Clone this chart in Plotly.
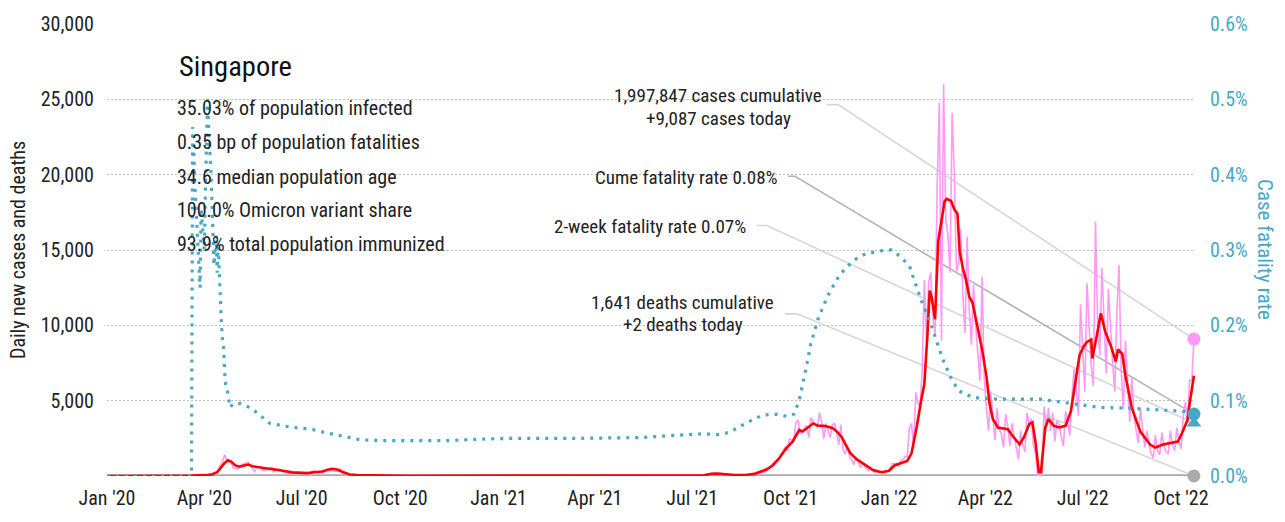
import pandas as pd
import plotly.graph_objects as go

FONT = "Roboto Condensed, DejaVu Sans Condensed, sans-serif"
INK = "#222222"
TEAL = "#46a8c4"
PINK = "#ff99f7"
RED = "#ff0000"
GREY = "#aaaaaa"

Y_MAX = 30000          # left axis: daily cases / deaths
Y2_MAX = 0.006         # right axis: case fatality rate
X_START, X_END = "2020-01-01", "2022-10-14"
LATEST = "2022-10-13"

# ---- daily new cases -------------------------------------------------------
early_dates = ["2020-01-01", "2020-01-23", "2020-02-05", "2020-02-20", "2020-03-05"]
early_cases = [0, 1, 6, 3, 8]

# first wave, every other day from 13 Mar 2020
cases_2020_start = "2020-03-13"
cases_2020 = [
    13, 14, 23, 32, 47, 23, 73, 52, 42, 47,
    49, 75, 66, 142, 198, 191, 334, 728, 942, 1426, 1016, 897, 931, 528, 528,
    447, 573, 788, 768, 876, 884, 675, 465, 305, 570, 614, 548, 383, 373, 506,
    408, 569, 261, 407, 451, 422, 347, 214, 247, 142, 218, 191, 191, 213, 213,
    215, 183, 183, 120, 158, 322, 347, 248, 211, 234, 211, 354, 484, 359, 359, 307,
    295, 313, 488, 188, 188, 42, 97, 86, 93, 78, 60, 50, 40, 30, 30,
]

quiet_dates = [
    "2020-09-05", "2020-09-20", "2020-10-05", "2020-10-20", "2020-11-05", "2020-11-20",
    "2020-12-05", "2020-12-20", "2021-01-05", "2021-01-25", "2021-02-15", "2021-03-05",
    "2021-03-25", "2021-04-15", "2021-05-05", "2021-05-20", "2021-06-05", "2021-06-20",
    "2021-07-05", "2021-07-12", "2021-07-15", "2021-07-18", "2021-07-21", "2021-07-24",
    "2021-07-27", "2021-07-30", "2021-08-03", "2021-08-07", "2021-08-11", "2021-08-15",
    "2021-08-19", "2021-08-23", "2021-08-27",
]
quiet_cases = [
    25, 20, 10, 6, 8, 10, 12, 20, 30, 25, 12, 15, 20, 25, 30, 35, 20, 15,
    10, 60, 100, 170, 180, 150, 130, 110, 100, 75, 60, 55, 70, 95, 130,
]

# Delta and Omicron waves, every other day up to the latest report
cases_recent = [
    156, 187, 259, 235, 332, 555, 520, 837, 910, 1009, 1012, 1457, 1650, 1939, 1647, 2478,
    2356, 2475, 3577, 3703, 2809, 2976, 3190, 3348, 2553, 3862, 3637, 3383, 3277, 4200, 3600,
    2470, 3496, 3003, 2553, 3397, 3481, 2899, 2069, 3400, 1734, 1461, 2079, 1275, 1090, 747,
    1225, 1101, 552, 794, 713, 450, 356, 550, 324, 244, 255, 280, 234, 190, 257, 344,
    460, 842, 808, 802, 656, 1022, 1090, 1283, 1282, 3155, 3496, 1880, 5554, 4830, 4627,
    7000, 13000, 9000, 12900, 13500, 10500, 9400, 19400, 24800, 9000, 26000, 17000, 16000, 13500,
    24100, 20000, 13600, 14000, 16400, 12000, 9500, 15900, 11000, 8700, 12700, 10000, 8300, 6300, 13200, 6500,
    4500, 3000, 5600, 4200, 2400, 4500, 3100, 2800, 1900, 4100, 3300, 2000, 3500, 2600, 1800,
    1100, 3000, 2100, 1600, 4200, 3500, 3800, 2000, 1500, 0, 0, 0, 4600, 3200, 4500,
    3000, 4200, 2300, 3700, 3400, 2600, 2000, 4300, 3600, 2700, 5300, 7100, 5800, 4000, 11400,
    8200, 5600, 12800, 9500, 7200, 6000, 16900, 10000, 8000, 13800, 10500, 6800, 12400, 9500, 7500, 5600,
    11000, 14000, 7000, 4400, 9000, 6200, 3600, 6500, 4000, 3000, 2200, 4500, 3100, 1900, 3000,
    2300, 1500, 1200, 2700, 1700, 1400, 2900, 2000, 1600, 1500, 3000, 2100, 1700, 3200, 2300,
    1800, 3900, 4900, 3500, 6400, 6300, 9087,
]

# ---- 7-day average of new cases --------------------------------------------
avg_dates = [
    "2020-01-01", "2020-03-01", "2020-03-20", "2020-04-01", "2020-04-08", "2020-04-13",
    "2020-04-17", "2020-04-20", "2020-04-23", "2020-04-26", "2020-04-30", "2020-05-04",
    "2020-05-08", "2020-05-12", "2020-05-16", "2020-05-22", "2020-05-28", "2020-06-03",
    "2020-06-10", "2020-06-16", "2020-06-22", "2020-06-29", "2020-07-06", "2020-07-13",
    "2020-07-20", "2020-07-29", "2020-08-03", "2020-08-09", "2020-08-15", "2020-08-22",
    "2020-09-01", "2020-09-20", "2020-10-10", "2020-12-01", "2021-02-01", "2021-04-01",
    "2021-06-01", "2021-07-01", "2021-07-12", "2021-07-19", "2021-07-25", "2021-08-01",
    "2021-08-10", "2021-08-20", "2021-08-28", "2021-09-02", "2021-09-09", "2021-09-15",
    "2021-09-21", "2021-09-27", "2021-10-03", "2021-10-09", "2021-10-12", "2021-10-16",
    "2021-10-22", "2021-10-26", "2021-11-01", "2021-11-06", "2021-11-10", "2021-11-14",
    "2021-11-18", "2021-11-22", "2021-11-26", "2021-12-02", "2021-12-10", "2021-12-17",
    "2021-12-25", "2022-01-01", "2022-01-06", "2022-01-12", "2022-01-18", "2022-01-22",
    "2022-01-27", "2022-01-31", "2022-02-03", "2022-02-06", "2022-02-08", "2022-02-10",
    "2022-02-13", "2022-02-16", "2022-02-18", "2022-02-22", "2022-02-24", "2022-02-28",
    "2022-03-03", "2022-03-06", "2022-03-08", "2022-03-11", "2022-03-14", "2022-03-17",
    "2022-03-20", "2022-03-24", "2022-03-29", "2022-04-02", "2022-04-05", "2022-04-08",
    "2022-04-13", "2022-04-18", "2022-04-22", "2022-04-26", "2022-04-30", "2022-05-03",
    "2022-05-07", "2022-05-12", "2022-05-15", "2022-05-18", "2022-05-20", "2022-05-21",
    "2022-05-23", "2022-05-25", "2022-05-27", "2022-05-30", "2022-06-04", "2022-06-09",
    "2022-06-15", "2022-06-20", "2022-06-24", "2022-06-28", "2022-07-02", "2022-07-05",
    "2022-07-09", "2022-07-10", "2022-07-14", "2022-07-18", "2022-07-22", "2022-07-27",
    "2022-08-01", "2022-08-03", "2022-08-07", "2022-08-10", "2022-08-16", "2022-08-24",
    "2022-09-02", "2022-09-07", "2022-09-14", "2022-09-23", "2022-09-28", "2022-10-02",
    "2022-10-07", "2022-10-09", "2022-10-13",
]
avg_cases = [
    0, 3, 30, 55, 100, 260,
    600, 870, 1040, 960, 700, 620,
    700, 760, 650, 560, 520, 460,
    400, 320, 240, 200, 190, 250,
    300, 480, 430, 250, 100, 70,
    45, 25, 10, 10, 20, 25,
    20, 15, 50, 150, 170, 120,
    70, 70, 140, 260, 450, 750,
    1240, 1850, 2300, 3050, 2950, 3150,
    3490, 3350, 3330, 3250, 3150, 2900,
    2560, 2000, 1500, 1100, 700, 400,
    250, 350, 700, 850, 1000, 1500,
    3300, 5000, 6100, 9500, 12300, 11800,
    10400, 15600, 16600, 18250, 18400, 18250,
    17700, 17400, 14900, 13800, 13000, 11900,
    11500, 10100, 8400, 6650, 4800, 3780,
    3200, 3150, 3100, 2700, 2330, 2100,
    2560, 3440, 3560, 2200, 900, 250,
    250, 1800, 3200, 3780, 3330, 3220,
    3330, 4300, 6000, 8000, 8600, 8900,
    9050, 7800, 9250, 10800, 9600, 8700,
    7600, 8400, 8100, 6650, 4500, 2930,
    2090, 1890, 2090, 2220, 2280, 2870,
    3720, 4820, 6650,
]

# ---- daily deaths ------------------------------------------------------------
death_dates = [
    "2020-01-01", "2020-03-21", "2020-05-01", "2020-09-01", "2021-07-01", "2021-08-15",
    "2021-09-15", "2021-10-15", "2021-11-10", "2021-12-10", "2022-01-10", "2022-02-20",
    "2022-03-15", "2022-04-15", "2022-06-15", "2022-07-20", "2022-09-01", "2022-10-13",
]
death_daily = [0, 1, 0, 0, 0, 1, 3, 12, 14, 5, 1, 8, 9, 3, 2, 4, 2, 2]

# ---- cumulative case fatality rate -------------------------------------------
cfr_dates = [
    "2020-01-01", "2020-03-20", "2020-03-21", "2020-03-22", "2020-03-23", "2020-03-24",
    "2020-03-25", "2020-03-26", "2020-03-27", "2020-03-28", "2020-03-29", "2020-03-30",
    "2020-03-31", "2020-04-01", "2020-04-02", "2020-04-03", "2020-04-04", "2020-04-05",
    "2020-04-06", "2020-04-07", "2020-04-08", "2020-04-09", "2020-04-10", "2020-04-11",
    "2020-04-12", "2020-04-13", "2020-04-14", "2020-04-15", "2020-04-16", "2020-04-17",
    "2020-04-18", "2020-04-19", "2020-04-20", "2020-04-21", "2020-04-22", "2020-04-23",
    "2020-04-25", "2020-04-28", "2020-05-05", "2020-05-15", "2020-06-01", "2020-06-20",
    "2020-07-10", "2020-07-25", "2020-08-10", "2020-08-25", "2020-09-15", "2020-10-15",
    "2020-11-15", "2020-12-15", "2021-01-15", "2021-03-15", "2021-05-15", "2021-06-15",
    "2021-07-10", "2021-07-25", "2021-08-05", "2021-08-20", "2021-09-05", "2021-09-18",
    "2021-09-28", "2021-10-04", "2021-10-09", "2021-10-15", "2021-10-20", "2021-10-27",
    "2021-11-05", "2021-11-15", "2021-11-22", "2021-12-01", "2021-12-10", "2021-12-25",
    "2022-01-03", "2022-01-11", "2022-01-20", "2022-01-27", "2022-02-01", "2022-02-08",
    "2022-02-14", "2022-02-20", "2022-02-28", "2022-03-07", "2022-03-21", "2022-04-15",
    "2022-05-22", "2022-06-10", "2022-06-28", "2022-07-17", "2022-08-14", "2022-09-30",
    "2022-10-13",
]
cfr_values = [
    0, 0, 0.00463, 0.0044, 0.0039, 0.0036,
    0.0032, 0.0029, 0.0027, 0.0025, 0.00355, 0.0034,
    0.0032, 0.0030, 0.0038, 0.0045, 0.0050, 0.0046,
    0.0044, 0.0041, 0.0037, 0.0031, 0.0028, 0.0030,
    0.0032, 0.0027, 0.0031, 0.0027, 0.0023, 0.0020,
    0.0018, 0.0017, 0.00137, 0.0012, 0.00118, 0.00107,
    0.00091, 0.00096, 0.00096, 0.0009, 0.0007, 0.00065,
    0.00062, 0.00057, 0.00052, 0.00048, 0.00047, 0.000465,
    0.00047, 0.00049, 0.0005, 0.0005, 0.00051, 0.00054,
    0.00056, 0.00055, 0.00058, 0.0007, 0.00081, 0.00082,
    0.00079, 0.00082, 0.001, 0.0014, 0.00176, 0.0021,
    0.0024, 0.00265, 0.00277, 0.00288, 0.00295, 0.00299,
    0.003, 0.00292, 0.00279, 0.0025, 0.0023, 0.00206,
    0.00181, 0.00156, 0.0013, 0.00113, 0.00104, 0.00102,
    0.00102, 0.00098, 0.00094, 0.00091, 0.0009, 0.00086,
    0.00085,
]

# ---- headline figures ----------------------------------------------------------
cases_cumulative = 1997847
cases_today = 9087
deaths_cumulative = 1641
deaths_today = 2
cfr_two_week = 0.0007
cfr_cumulative = deaths_cumulative / cases_cumulative

stats_lines = [
    "35.03% of population infected",
    "0.35 bp of population fatalities",
    "34.6 median population age",
    "100.0% Omicron variant share",
    "93.9% total population immunized",
]

tick_dates = pd.date_range("2020-01-01", "2022-10-01", freq="QS")
tick_text = [d.strftime("%b '%y") for d in tick_dates]

# ---- assemble series -----------------------------------------------------------
daily_x = (
    list(pd.to_datetime(early_dates))
    + list(pd.date_range(cases_2020_start, periods=len(cases_2020), freq="2D"))
    + list(pd.to_datetime(quiet_dates))
    + list(pd.date_range(end=LATEST, periods=len(cases_recent), freq="2D"))
)
daily_y = early_cases + cases_2020 + quiet_cases + cases_recent

last_day = pd.Timestamp(LATEST)
x0, x1 = pd.Timestamp(X_START), pd.Timestamp(X_END)


def date_at(fx):
    """Date at a fraction of the plot width."""
    return x0 + (x1 - x0) * fx


fig = go.Figure()

# leader lines from the labels to the latest values
leaders = [
    (0.6618, 0.6719, 0.8217, cases_today, "#d6d6d6"),
    (0.6259, 0.6324, 0.6630, cfr_cumulative * Y_MAX / Y2_MAX, "#b4b4b4"),
    (0.5974, 0.6066, 0.5543, cfr_two_week * Y_MAX / Y2_MAX, "#d6d6d6"),
    (0.6232, 0.6342, 0.3587, deaths_today, "#d6d6d6"),
]
for fx0, fx1, fy, end_val, col in leaders:
    fig.add_trace(go.Scatter(
        x=[date_at(fx0), date_at(fx1), last_day],
        y=[fy * Y_MAX, fy * Y_MAX, end_val],
        mode="lines", line=dict(color=col, width=1.6),
        hoverinfo="skip", showlegend=False, cliponaxis=False,
    ))

fig.add_trace(go.Scatter(
    x=pd.to_datetime(death_dates), y=death_daily, mode="lines",
    line=dict(color=GREY, width=3.5), hoverinfo="skip", showlegend=False,
))
fig.add_trace(go.Scatter(
    x=daily_x, y=daily_y, mode="lines",
    line=dict(color=PINK, width=1.6), hoverinfo="skip", showlegend=False,
))
fig.add_trace(go.Scatter(
    x=pd.to_datetime(avg_dates), y=avg_cases, mode="lines",
    line=dict(color=RED, width=2.6), hoverinfo="skip", showlegend=False,
))
fig.add_trace(go.Scatter(
    x=[last_day], y=[cases_today], mode="markers",
    marker=dict(color=PINK, size=13), cliponaxis=False,
    hoverinfo="skip", showlegend=False,
))
fig.add_trace(go.Scatter(
    x=[last_day], y=[deaths_today], mode="markers",
    marker=dict(color=GREY, size=13), cliponaxis=False,
    hoverinfo="skip", showlegend=False,
))
fig.add_trace(go.Scatter(
    x=pd.to_datetime(cfr_dates), y=cfr_values, mode="lines", yaxis="y2",
    line=dict(color=TEAL, width=3.2, dash="3px,6px"),
    hoverinfo="skip", showlegend=False,
))
fig.add_trace(go.Scatter(
    x=[last_day], y=[cfr_two_week], mode="markers", yaxis="y2",
    marker=dict(color=TEAL, size=13, symbol="triangle-up"), cliponaxis=False,
    hoverinfo="skip", showlegend=False,
))
fig.add_trace(go.Scatter(
    x=[last_day], y=[cfr_cumulative], mode="markers", yaxis="y2",
    marker=dict(color=TEAL, size=13), cliponaxis=False,
    hoverinfo="skip", showlegend=False,
))

annotations = [
    dict(text="Singapore", x=0.0643, y=0.905, font=dict(size=28.5, color="#111111"),
         xanchor="left", yanchor="middle"),
]
for line, fy in zip(stats_lines, [0.8152, 0.7391, 0.6609, 0.5891, 0.5130]):
    annotations.append(dict(text=line, x=0.0625, y=fy, font=dict(size=20, color=INK),
                            xanchor="left", yanchor="middle"))

annotations += [
    dict(text=f"{cases_cumulative:,} cases cumulative", x=0.5616, y=0.8413, xanchor="center"),
    dict(text=f"+{cases_today:,} cases today", x=0.5616, y=0.7913, xanchor="center"),
    dict(text=f"Cume fatality rate {cfr_cumulative:.2%}", x=0.6186, y=0.6609, xanchor="right"),
    dict(text=f"2-week fatality rate {cfr_two_week:.2%}", x=0.5892, y=0.5522, xanchor="right"),
    dict(text=f"{deaths_cumulative:,} deaths cumulative", x=0.5294, y=0.3848, xanchor="center"),
    dict(text=f"+{deaths_today:,} deaths today", x=0.5294, y=0.3348, xanchor="center"),
    dict(text="Daily new cases and deaths", x=-0.0818, y=0.5, textangle=-90,
         font=dict(size=20, color=INK), xanchor="center"),
    dict(text="Case fatality rate", x=1.0643, y=0.5, textangle=90,
         font=dict(size=21, color=TEAL), xanchor="center"),
]
for a in annotations:
    a.setdefault("xref", "paper")
    a.setdefault("yref", "paper")
    a.setdefault("showarrow", False)
    a.setdefault("yanchor", "middle")
    a.setdefault("font", dict(size=19, color=INK))

fig.update_layout(
    width=1285, height=522, autosize=False,
    margin=dict(l=107, r=90, t=22, b=40),
    paper_bgcolor="white", plot_bgcolor="white",
    font=dict(family=FONT, color=INK, size=20),
    showlegend=False,
    annotations=annotations,
    xaxis=dict(
        range=[X_START, X_END], tickvals=tick_dates, ticktext=tick_text,
        showgrid=False, zeroline=False, showline=False, ticks="",
        tickfont=dict(size=20, color=INK), ticklabelstandoff=8,
    ),
    yaxis=dict(
        range=[0, Y_MAX], tickvals=list(range(5000, Y_MAX + 1, 5000)), tickformat=",",
        showgrid=True, gridcolor="#bdbdbd", griddash="2px,2px", gridwidth=1,
        zeroline=False, showline=False, ticks="",
        tickfont=dict(size=20, color=INK), ticklabelstandoff=12,
    ),
    yaxis2=dict(
        range=[0, Y2_MAX], overlaying="y", side="right",
        tickvals=[i / 1000 for i in range(7)], tickformat=".1%",
        showgrid=False, zeroline=False, showline=False, ticks="",
        tickfont=dict(size=20, color=TEAL), ticklabelstandoff=14,
    ),
)

fig.write_html("out.html")
